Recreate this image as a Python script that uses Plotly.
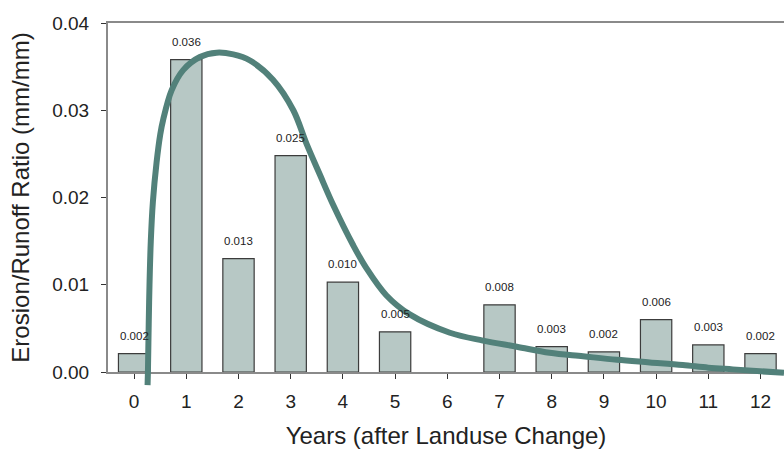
import plotly.graph_objects as go

# Years after land-use change and measured erosion/runoff ratio (mm/mm); year 6 has no record
years = [0, 1, 2, 3, 4, 5, 6, 7, 8, 9, 10, 11, 12]
ratio = [0.0021, 0.0358, 0.0130, 0.0248, 0.0103, 0.0046, None,
         0.0077, 0.0029, 0.0023, 0.0060, 0.0031, 0.0021]

# Fitted response curve, sampled along its path
fit_x = [0.258, 0.265, 0.28, 0.295, 0.32, 0.36, 0.43, 0.50, 0.56, 0.72, 0.94,
         1.26, 1.58, 1.90, 2.22, 2.66, 3.05, 3.30, 3.56, 3.81, 4.20, 4.45, 4.83,
         5.28, 6.05, 6.68, 7.33, 7.96, 8.60, 9.25, 9.88, 10.51, 11.00, 11.47, 12.45]
fit_y = [-0.0015, 0.0, 0.0055, 0.0100, 0.0150, 0.0195, 0.0240, 0.0272, 0.0290,
         0.0323, 0.0346, 0.0361, 0.0366, 0.0364, 0.0357, 0.0335, 0.0300, 0.0262,
         0.0226, 0.0192, 0.0145, 0.0119, 0.0088, 0.0066, 0.0045, 0.0036, 0.0029,
         0.0022, 0.0018, 0.0014, 0.0011, 0.0008, 0.0005, 0.0003, -0.0001]

y_ticks = [0.00, 0.01, 0.02, 0.03, 0.04]

FONT = "Liberation Sans, Arial, sans-serif"
W, H = 784, 453
M_L, M_R, M_T, M_B = 108, 0, 23, 60
AXIS_BOTTOM_PX = 372          # pixel row of y = 0
Y_MAX = 0.04
X_RANGE = [-0.5, 12.45]

plot_h = H - M_T - M_B
main_bottom = (H - M_B - AXIS_BOTTOM_PX) / plot_h
units_per_px = Y_MAX / (AXIS_BOTTOM_PX - M_T)
curve_ymin = -(H - M_B - AXIS_BOTTOM_PX) * units_per_px

fig = go.Figure()

fig.add_trace(go.Bar(
    x=years, y=ratio, width=0.6,
    marker=dict(color="#b7c8c5", line=dict(color="#3c3c3c", width=1.2)),
    xaxis="x", yaxis="y", showlegend=False,
))

# Value labels above each bar
for xv, yv in zip(years, ratio):
    if yv is None:
        continue
    fig.add_annotation(
        x=xv, y=yv, xref="x", yref="y", text=f"{yv:.3f}", showarrow=False,
        yshift=18, font=dict(family=FONT, size=11.5, color="#222222"),
    )

# Curve lives on an overlay whose plot area reaches a little below y = 0
fig.add_trace(go.Scatter(
    x=fit_x, y=fit_y, mode="lines",
    line=dict(color="#52817a", width=6, shape="spline", smoothing=1.0),
    xaxis="x2", yaxis="y2", showlegend=False,
))

fig.update_layout(
    width=W, height=H,
    margin=dict(l=M_L, r=M_R, t=M_T, b=M_B),
    paper_bgcolor="white", plot_bgcolor="rgba(0,0,0,0)",
    font=dict(family=FONT, color="#222222"),
    bargap=0.4,
    xaxis=dict(
        range=X_RANGE, domain=[0, 1], anchor="y",
        tickmode="array", tickvals=years, ticktext=[str(v) for v in years],
        ticks="outside", ticklen=5, tickwidth=1.2, tickcolor="#333333",
        ticklabelstandoff=6,
        showline=True, linecolor="#8a8a8a", linewidth=2, mirror=True,
        showgrid=False, zeroline=False,
        tickfont=dict(family=FONT, size=19, color="#222222"),
        title=dict(text="Years (after Landuse Change)", standoff=16,
                   font=dict(family=FONT, size=24, color="#222222")),
    ),
    yaxis=dict(
        range=[0, Y_MAX], domain=[main_bottom, 1], anchor="x",
        tickmode="array", tickvals=y_ticks, tickformat=".2f",
        ticks="outside", ticklen=5, tickwidth=1.2, tickcolor="#333333",
        ticklabelstandoff=8,
        showline=True, linecolor="#8a8a8a", linewidth=2,
        showgrid=False, zeroline=False,
        tickfont=dict(family=FONT, size=19, color="#222222"),
        title=dict(text="Erosion/Runoff Ratio (mm/mm)", standoff=16,
                   font=dict(family=FONT, size=24, color="#222222")),
    ),
    xaxis2=dict(range=X_RANGE, domain=[0, 1], anchor="y2", visible=False),
    yaxis2=dict(range=[curve_ymin, Y_MAX], domain=[0, 1], anchor="x2", visible=False),
)

fig.write_html("out.html")
